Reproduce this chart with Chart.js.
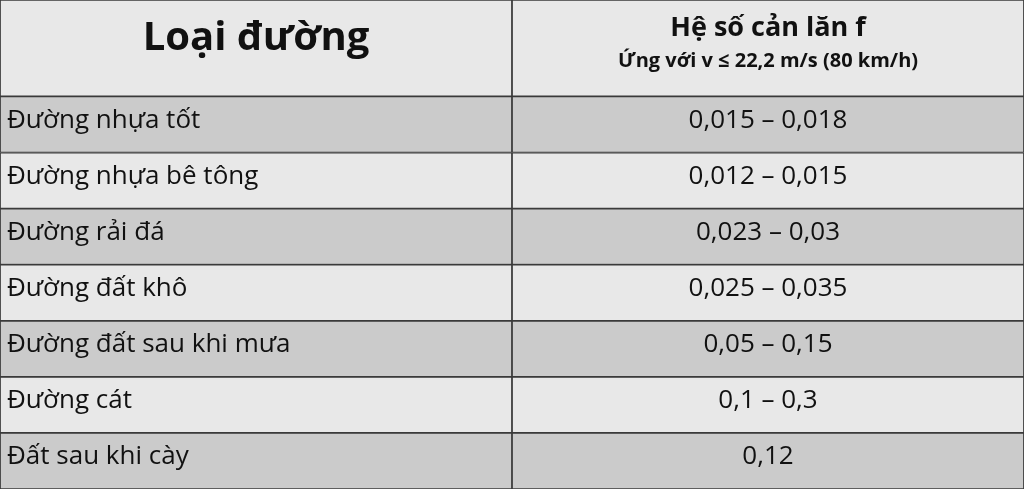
<!DOCTYPE html>
<html><head><meta charset="utf-8">
<script src="https://cdn.jsdelivr.net/npm/chart.js@4"></script>
<style>html,body{margin:0;padding:0;background:#e8e8e8}#w{width:1024px;height:489px}</style>
</head><body><div id="w"><canvas id="c"></canvas></div>
<script>
const headerLeft = "Loại đường";
const headerRightTitle = "Hệ số cản lăn f";
const headerRightSub = "Ứng với v ≤ 22,2 m/s (80 km/h)";
const roadTypes = ["Đường nhựa tốt","Đường nhựa bê tông","Đường rải đá","Đường đất khô","Đường đất sau khi mưa","Đường cát","Đất sau khi cày"];
const coefficients = ["0,015 – 0,018","0,012 – 0,015","0,023 – 0,03","0,025 – 0,035","0,05 – 0,15","0,1 – 0,3","0,12"];
const columns = ["left","right"];
// row extents in row units: header is taller
const headerSpan = 1.72;
const rowEdges = [0];
rowEdges.push(headerSpan);
roadTypes.forEach((_, i) => rowEdges.push(headerSpan + i + 1));
const total = rowEdges[rowEdges.length - 1];
const rowColor = i => (i % 2 === 0) ? "#e8e8e8" : "#cbcbcb";
const datasets = rowEdges.slice(0, -1).map((top, i) => ({
  data: columns.map(() => [top, rowEdges[i + 1]]),
  backgroundColor: rowColor(i), borderColor: "#3a3a3a", borderWidth: 1.2, borderSkipped: false
}));
const textPlugin = {
  id: "txt",
  afterDatasetsDraw(chart) {
    const ctx = chart.ctx, xs = chart.scales.x, ys = chart.scales.y;
    const cL = xs.getPixelForValue(0), cR = xs.getPixelForValue(1);
    const x0 = chart.chartArea.left;
    const yc = i => (ys.getPixelForValue(rowEdges[i]) + ys.getPixelForValue(rowEdges[i + 1])) / 2;
    ctx.save(); ctx.fillStyle = "#111"; ctx.textBaseline = "middle"; ctx.textAlign = "center";
    const yh = yc(0);
    ctx.font = "bold 40px 'Open Sans'";
    ctx.fillText(headerLeft, cL, yh - 10);
    ctx.font = "bold 27px 'Open Sans'";
    ctx.fillText(headerRightTitle, cR, yh - 20);
    ctx.font = "bold 20px 'Open Sans'";
    ctx.fillText(headerRightSub, cR, yh + 13);
    ctx.font = "26px 'Open Sans'";
    roadTypes.forEach((r, i) => {
      const y = yc(i + 1) - 4;
      ctx.textAlign = "left"; ctx.fillText(r, x0 + 7, y);
      ctx.textAlign = "center"; ctx.fillText(coefficients[i], cR, y);
    });
    ctx.restore();
  }
};
new Chart(document.getElementById("c"), {
  type: "bar",
  data: { labels: columns, datasets },
  options: {
    responsive: true, maintainAspectRatio: false, animation: false,
    layout: { padding: 0 },
    datasets: { bar: { barPercentage: 1, categoryPercentage: 1, grouped: false } },
    plugins: { legend: { display: false }, tooltip: { enabled: false } },
    scales: {
      x: { type: "category", display: false, offset: true },
      y: { type: "linear", min: 0, max: total, reverse: true, display: false }
    }
  },
  plugins: [textPlugin]
});
</script></body></html>
